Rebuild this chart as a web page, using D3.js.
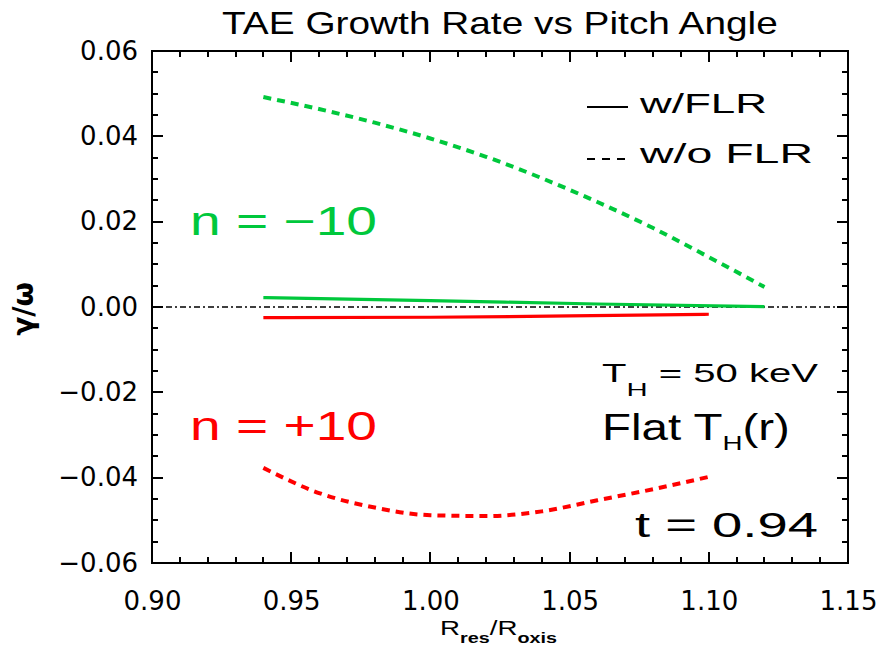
<!DOCTYPE html>
<html>
<head>
<meta charset="utf-8">
<script src="https://cdn.jsdelivr.net/npm/d3@7"></script>
<style>
  body { margin: 0; background: #fff; }
  svg { display: block; }
</style>
</head>
<body>
<svg id="chart" width="878" height="649"></svg>
<script>
// values
const xWithFlr = [0.94, 1.00, 1.06, 1.12];
const greenWithFlr = [0.0022, 0.0015, 0.0007, 0.0001];
const xRedWithFlr = [0.94, 1.00, 1.05, 1.10];
const redWithFlr = [-0.0025, -0.0024, -0.0021, -0.0017];

const xGreenNoFlr = [0.94, 0.96, 0.98, 1.00, 1.02, 1.04, 1.06, 1.08, 1.10, 1.12];
const greenNoFlr = [0.0492, 0.0464, 0.0432, 0.0395, 0.0352, 0.0302, 0.0246, 0.0185, 0.0117, 0.0047];
const xRedNoFlr = [0.94, 0.96, 0.98, 1.00, 1.02, 1.04, 1.06, 1.08, 1.10];
const redNoFlr = [-0.0377, -0.0436, -0.0470, -0.0488, -0.0490, -0.0479, -0.0453, -0.0427, -0.0398];

const xTicks = [0.90, 0.95, 1.00, 1.05, 1.10, 1.15];
const yTicks = [-0.06, -0.04, -0.02, 0.00, 0.02, 0.04, 0.06];

const GREEN = "#00c83c";
const RED = "#ff0000";
const HFONT = "Liberation Sans, Arial, sans-serif";

const svg = d3.select("#chart");
const pLeft = 152, pRight = 848, pTop = 51, pBottom = 563;

const x = d3.scaleLinear().domain([0.90, 1.15]).range([pLeft, pRight]);
const y = d3.scaleLinear().domain([-0.06, 0.06]).range([pBottom, pTop]);

const xMinor = d3.range(0.90, 1.1501, 0.01).filter(v => !xTicks.some(t => Math.abs(t - v) < 1e-6));
const yMinor = d3.range(-0.06, 0.0601, 0.005).filter(v => !yTicks.some(t => Math.abs(t - v) < 1e-6));

const fmt = d3.format(".2f");

// tick labels from the d3 axes
const axisG = svg.append("g");
axisG.append("g").attr("transform", `translate(0,${pBottom})`)
  .call(d3.axisBottom(x).tickValues(xTicks).tickFormat(fmt).tickSize(0).tickPadding(29));
axisG.append("g").attr("transform", `translate(${pLeft},0)`)
  .call(d3.axisLeft(y).tickValues(yTicks).tickFormat(fmt).tickSize(0).tickPadding(14));
axisG.selectAll(".domain").remove();
axisG.selectAll(".tick text").attr("font-size", 26).attr("fill", "#000")
  .attr("font-family", "DejaVu Sans");

// tick marks pointing inward on all four sides, as one path
function markPath(len, vals, horiz) {
  return vals.map(v => {
    if (horiz) {
      const px = Math.round(x(v));
      return `M${px},${pBottom}V${pBottom - len}M${px},${pTop}V${pTop + len}`;
    }
    const py = Math.round(y(v));
    return `M${pLeft},${py}H${pLeft + len}M${pRight},${py}H${pRight - len}`;
  }).join("");
}
svg.append("path")
  .attr("d", markPath(11, xTicks, true) + markPath(6, xMinor, true) +
             markPath(11, yTicks, false) + markPath(6, yMinor, false))
  .attr("fill", "none").attr("stroke", "#000").attr("stroke-width", 2)
  .attr("shape-rendering", "crispEdges");

svg.append("rect").attr("x", pLeft).attr("y", pTop)
  .attr("width", pRight - pLeft).attr("height", pBottom - pTop)
  .attr("fill", "none").attr("stroke", "#000").attr("stroke-width", 2)
  .attr("shape-rendering", "crispEdges");

// zero line
svg.append("line")
  .attr("x1", x(0.90)).attr("x2", x(1.15))
  .attr("y1", y(0)).attr("y2", y(0))
  .attr("stroke", "#000").attr("stroke-width", 1.6)
  .attr("stroke-dasharray", "6,3,2,3");

const line = d3.line().x(d => x(d[0])).y(d => y(d[1])).curve(d3.curveMonotoneX);
function series(xs, ys, color, dashed) {
  svg.append("path")
    .datum(d3.zip(xs, ys))
    .attr("d", line)
    .attr("fill", "none")
    .attr("stroke", color)
    .attr("stroke-width", dashed ? 4 : 3.2)
    .attr("stroke-dasharray", dashed ? "8,6" : null);
}
series(xWithFlr, greenWithFlr, GREEN, false);
series(xRedWithFlr, redWithFlr, RED, false);
series(xGreenNoFlr, greenNoFlr, GREEN, true);
series(xRedNoFlr, redNoFlr, RED, true);

// wide plotter-style text: draw, measure, stretch to the width seen in the picture
function wideText(left, base, width, size, parts, color) {
  const g = svg.append("g");
  const t = g.append("text").attr("font-family", HFONT).attr("font-size", size)
    .attr("fill", color || "#000");
  parts.forEach(p => {
    const s = t.append("tspan").text(p[0]);
    if (p[1]) s.attr("font-size", p[1]);
    if (p[2]) s.attr("dy", p[2]);
    if (p[3]) s.attr("font-weight", "bold");
  });
  const w = t.node().getComputedTextLength();
  g.attr("transform", `translate(${left},${base}) scale(${width / w},1)`);
}

wideText(222, 34, 556, 32, [["TAE Growth Rate vs Pitch Angle"]]);

// legend
svg.append("line").attr("x1", 587).attr("x2", 628).attr("y1", 107).attr("y2", 107)
  .attr("stroke", "#000").attr("stroke-width", 2);
svg.append("line").attr("x1", 587).attr("x2", 628).attr("y1", 159).attr("y2", 159)
  .attr("stroke", "#000").attr("stroke-width", 2).attr("stroke-dasharray", "8,7");
wideText(640, 113, 127, 27, [["w/FLR"]]);
wideText(640, 163, 173, 27, [["w/o FLR"]]);

// annotations
wideText(190, 235, 187, 40, [["n = −10"]], GREEN);
wideText(190, 440, 187, 40, [["n = +10"]], RED);
wideText(602, 382, 216, 26, [["T"], ["H", 19, 14], [" = 50 keV", null, -14]]);
wideText(602, 440, 188, 36, [["Flat T"], ["H", 21, 10], ["(r)", null, -10]]);
wideText(635, 537, 183, 36, [["t = 0.94"]]);

// axis titles
wideText(440, 635, 117, 21, [["R"], ["res", 15, 8, true], ["/R", null, -8], ["oxis", 15, 8, true]]);
svg.append("text").attr("transform", "translate(33,309) rotate(-90)")
  .attr("text-anchor", "middle").attr("font-family", "DejaVu Sans")
  .attr("font-size", 28).attr("font-weight", "bold")
  .text("γ/ω");
</script>
</body>
</html>
